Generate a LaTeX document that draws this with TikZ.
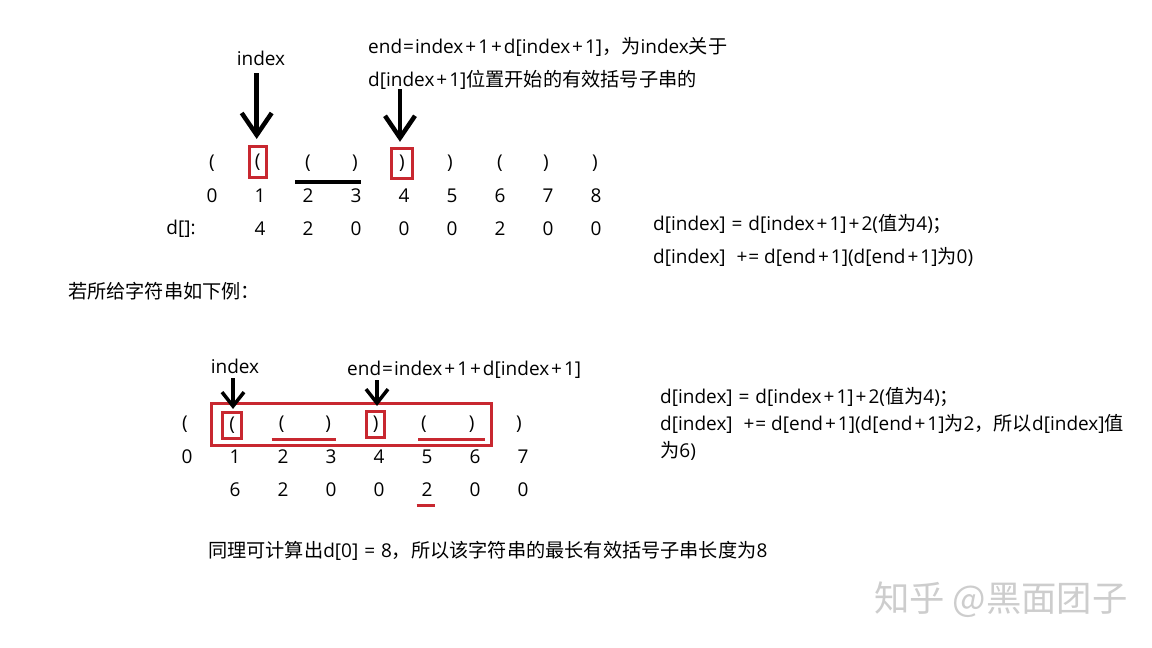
\documentclass[tikz,border=0pt]{standalone}
\usepackage{fontspec}
\setmainfont{Open Sans}
\newfontfamily\cjk{Noto Sans CJK SC}[Scale=1.01]
\usetikzlibrary{arrows.meta}
\definecolor{boxred}{RGB}{200,40,48}
\definecolor{wmgray}{RGB}{205,205,205}
\newcommand\pl{\kern2pt+\kern2pt}
\newcommand\eqs{\kern1pt=\kern1pt}
\begin{document}
\begin{tikzpicture}[x=1pt,y=-1pt,
  txt/.style={inner sep=0pt,font=\fontsize{19}{22}\selectfont},
  ltxt/.style={txt,anchor=west},
  redbox/.style={draw=boxred,line width=3pt,inner sep=0pt},
  bigarrow/.style={line width=4.5pt,-{Straight Barb[length=22pt,width=30pt]}},
  midarrow/.style={line width=3.5pt,-{Straight Barb[length=14pt,width=22pt]}},
  blackbar/.style={line width=4pt},
  redbar/.style={draw=boxred,line width=3pt}]
\fill[white] (0,0) rectangle (1152,648);
\useasboundingbox (0,0) rectangle (1152,648);

% ---------- top diagram ----------
\node[txt] (idx1) at (261,58) {index};
\node[ltxt] (t1) at (368,47) {end\eqs index\pl 1\pl d[index\pl 1]{\cjk ，为}index{\cjk 关于}};
\node[ltxt] (t2) at (368,80) {d[index\pl 1]{\cjk 位置开始的有效括号子串的}};

\node[txt] (p0) at (212,163) {(};
\node[txt,redbox,minimum width=17pt,minimum height=31pt] (p1) at (257.7,162) {(};
\node[txt] (p2) at (308,163) {(};
\node[txt] (p3) at (355,163) {)};
\node[txt,redbox,minimum width=21pt,minimum height=30pt] (p4) at (402,163.3) {)};
\node[txt] (p5) at (450,163) {)};
\node[txt] (p6) at (500,163) {(};
\node[txt] (p7) at (546,163) {)};
\node[txt] (p8) at (595,163) {)};

\foreach \i in {0,...,8} {
  \node[txt] (n\i) at ({212+48*\i},196) {\i};
}
\node[txt] (dl) at (181,229) {d[]:};
\foreach \v [count=\i] in {4,2,0,0,0,2,0,0} {
  \node[txt] (d\i) at ({212+48*\i},229) {\v};
}
\coordinate (barL) at (295,181.7);
\coordinate (barR) at (361,181.7);
\draw[blackbar] (barL) -- (barR);

\coordinate (a1s) at (256.7,73);
\coordinate (a2s) at (400,89);
\draw[bigarrow] (a1s) -- ([yshift=6pt]p1.north -| a1s);
\draw[bigarrow] (a2s) -- ([yshift=5pt]p4.north -| a2s);

\node[ltxt] (r1) at (653,224) {d[index]\ \kern1pt=\kern1pt\ d[index\pl 1]\pl 2({\cjk 值为}4){\cjk ；}};
\node[ltxt] (r2) at (653,257) {d[index]\ \ \kern1pt+\kern1pt=\ d[end\pl 1](d[end\pl 1]{\cjk 为}0)};

\node[ltxt] (mid) at (68,291) {\cjk 若所给字符串如下例：};

% ---------- bottom diagram ----------
\node[txt] (idx2) at (235,366) {index};
\node[ltxt] (t3) at (347,370) {end\eqs index\pl 1\pl d[index\pl 1]};

\node[draw=boxred,line width=3pt,minimum width=280pt,minimum height=42.5pt,inner sep=0pt] (big) at (351.3,424.7) {};
\node[txt] (q0) at (185,424) {(};
\node[txt,redbox,minimum width=19pt,minimum height=25.6pt] (q1) at (232.2,425.5) {(};
\node[txt] (q2) at (281.7,424) {(};
\node[txt] (q3) at (328.3,424) {)};
\node[txt,redbox,minimum width=18.3pt,minimum height=25.6pt] (q4) at (375.8,424.5) {)};
\node[txt] (q5) at (424,424) {(};
\node[txt] (q6) at (471.7,424) {)};
\node[txt] (q7) at (519,424) {)};

\foreach \i in {0,...,7} {
  \node[txt] (m\i) at ({187+48*\i},457) {\i};
}
\foreach \v [count=\i] in {6,2,0,0,2,0,0} {
  \node[txt] (e\i) at ({187+48*\i},490) {\v};
}
\coordinate (u1L) at (271.7,439);
\coordinate (u1R) at (335.7,439);
\coordinate (u2L) at (418.3,439);
\coordinate (u2R) at (485,439);
\coordinate (u3L) at (416.7,505.7);
\coordinate (u3R) at (435,505.7);
\draw[redbar] (u1L) -- (u1R);
\draw[redbar] (u2L) -- (u2R);
\draw[redbar] (u3L) -- (u3R);

\coordinate (a3s) at (233,378);
\coordinate (a4s) at (377,380);
\draw[midarrow] (a3s) -- ([yshift=-7pt]big.north -| a3s);
\draw[midarrow] (a4s) -- ([yshift=-4pt]big.north -| a4s);

\node[ltxt] (s1) at (660,397) {d[index]\ \kern1pt=\kern1pt\ d[index\pl 1]\pl 2({\cjk 值为}4){\cjk ；}};
\node[ltxt] (s2) at (660,424) {d[index]\ \ \kern1pt+\kern1pt=\ d[end\pl 1](d[end\pl 1]{\cjk 为}2{\cjk ，所以}d[index]{\cjk 值}};
\node[ltxt] (s3) at (660,451) {{\cjk 为}6)};

\node[ltxt] (fin) at (208,551) {{\cjk 同理可计算出}d[0]\ \kern1pt=\kern1pt\ 8{\cjk ，所以该字符串的最长有效括号子串长度为}8};

\node[ltxt,font=\cjk\fontsize{35}{40}\selectfont,text=wmgray] (wm) at (874,600) {知乎 @黑面团子};
\end{tikzpicture}
\end{document}
